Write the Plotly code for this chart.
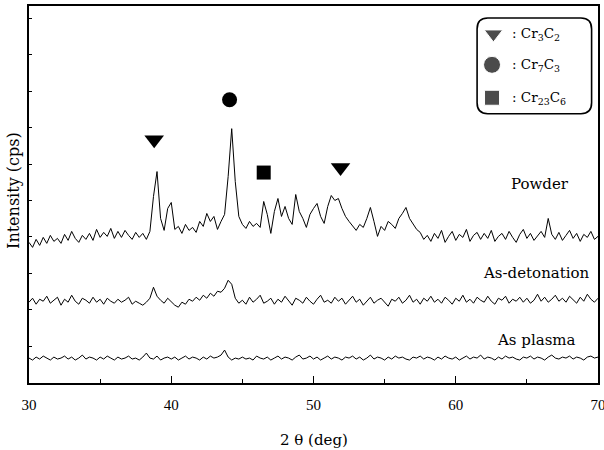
import numpy as np
import plotly.graph_objects as go

# 2-theta grid: 30..70 deg in 0.25 deg steps
two_theta_start = 30.0
two_theta_step = 0.25

powder = [134, 129, 137, 131, 139, 133, 141, 135, 138,
          133, 142, 136, 145, 138, 134, 141, 137,
          143, 136, 147, 139, 144, 140, 148, 138,
          145, 139, 146, 141, 137, 144, 139, 143, 137,
          145, 180, 205, 158, 146, 168, 174, 147,
          150, 143, 152, 146, 149, 144, 155, 150,
          163, 155, 160, 147, 155, 162, 200, 248, 195, 160,
          152, 148, 155, 150, 153, 149,
          175, 162, 143, 165, 178, 160, 170, 158, 152, 182, 165, 158, 149, 162, 168,
          173, 160, 153, 170, 181, 176, 178, 168, 160, 155, 150, 146, 152, 149, 158,
          169, 155, 140, 150, 146,
          155, 152, 148, 158, 163, 169, 158, 153, 147,
          144, 137, 141, 135, 143, 138, 146, 134, 140, 145,
          136, 142, 139, 147, 135, 141, 144, 137, 143, 138,
          146, 135, 140, 143, 137, 145, 139, 134, 142, 147,
          138, 143, 136, 141, 145, 139, 158, 142, 137, 144,
          136, 141, 146, 138, 143, 135, 142, 139, 145, 137, 140]

as_detonation = [74, 78, 72, 77, 75, 80, 73, 76, 79, 71,
                 77, 74, 81, 75, 72, 78, 76, 73, 79, 74,
                 77, 72, 78, 75, 73, 77, 74, 76, 79, 72,
                 75, 73, 71, 74,
                 78, 89, 80, 76, 73, 78, 74, 71, 69, 74, 72, 77, 75, 79, 76, 81,
                 78, 83, 80, 85, 84, 88, 96, 92, 78, 73,
                 76, 72, 79, 74, 77, 81, 73, 75, 78, 72,
                 77, 74, 80, 75, 71, 78, 76, 73, 79, 75,
                 72, 77, 81, 74, 76, 73, 79, 75, 78, 72,
                 76, 80, 74, 77, 71, 75, 79, 73, 76, 78,
                 74, 70, 77, 75, 79, 73, 76, 81, 74, 77,
                 72, 78, 75, 80, 74, 77, 73, 79, 76, 72,
                 78, 75, 81, 74, 77, 73, 79, 76, 74, 80,
                 75, 72, 78, 76, 80, 73, 77, 75, 79, 74,
                 78, 73, 76, 82, 75, 79, 74, 77, 81, 75,
                 78, 74, 80, 76, 73, 79, 75, 82, 77, 74, 78]

as_plasma = [18, 16, 19, 17, 20, 18, 16, 19, 17, 18,
             20, 17, 19, 16, 18, 21, 17, 19, 18, 16,
             19, 17, 20, 18, 16, 19, 17, 18, 20, 17,
             18, 16, 19, 23, 18, 17, 20, 16, 18, 19,
             17, 19, 16, 18, 20, 17, 19, 18, 16, 19,
             17, 20, 18, 19, 21, 26, 19, 16, 18, 17,
             19, 17, 18, 16, 20, 18, 17, 19, 16, 18,
             20, 17, 19, 18, 16, 19, 21, 17, 18, 20,
             17, 19, 16, 18, 20, 17, 19, 18, 16, 19,
             18, 20, 17, 19, 16, 18, 21, 17, 19, 18,
             16, 19, 17, 20, 18, 19, 17, 16, 19, 18,
             20, 17, 19, 18, 16, 19, 17, 20, 18, 17,
             19, 16, 18, 20, 17, 19, 18, 21, 17, 19,
             18, 16, 19, 17, 20, 18, 19, 17, 16, 19,
             18, 20, 17, 19, 18, 16, 19, 21, 18, 17,
             19, 18, 20, 17, 19, 18, 16, 19, 20, 18, 19]

# Phase identification markers
cr3c2_x = [38.8, 51.9]
cr3c2_y = [237, 209]
cr7c3_x = [44.1]
cr7c3_y = [277]
cr23c6_x = [46.5]
cr23c6_y = [204]

sample_labels = ["Powder", "As-detonation", "As plasma"]
sample_label_x = [65.9, 65.65, 65.7]
sample_label_y = [193, 103, 36]

legend_labels = [": Cr<sub>3</sub>C<sub>2</sub>", ": Cr<sub>7</sub>C<sub>3</sub>",
                 ": Cr<sub>23</sub>C<sub>6</sub>"]
legend_symbols = ["triangle-down", "circle", "square"]
legend_y = [343, 312, 279]

SERIF = "DejaVu Serif"
TICKFONT = "Liberation Serif"


def xs(vals):
    return two_theta_start + two_theta_step * np.arange(len(vals))


fig = go.Figure()
for vals in (powder, as_detonation, as_plasma):
    fig.add_trace(go.Scatter(x=xs(vals), y=vals, mode="lines",
                             line=dict(color="black", width=1.0),
                             showlegend=False, hoverinfo="skip"))

fig.add_trace(go.Scatter(x=cr3c2_x, y=cr3c2_y, mode="markers",
                         marker=dict(symbol="triangle-down", size=17, color="black"),
                         showlegend=False))
fig.add_trace(go.Scatter(x=cr7c3_x, y=cr7c3_y, mode="markers",
                         marker=dict(symbol="circle", size=15, color="black"),
                         showlegend=False))
fig.add_trace(go.Scatter(x=cr23c6_x, y=cr23c6_y, mode="markers",
                         marker=dict(symbol="square", size=14, color="black"),
                         showlegend=False))

# Legend box (rounded)
x0, x1, y0, y1 = 61.5, 69.55, 263, 359
rx, ry = 0.75, 11
path = (f"M {x0+rx},{y1} L {x1-rx},{y1} Q {x1},{y1} {x1},{y1-ry} "
        f"L {x1},{y0+ry} Q {x1},{y0} {x1-rx},{y0} L {x0+rx},{y0} "
        f"Q {x0},{y0} {x0},{y0+ry} L {x0},{y1-ry} Q {x0},{y1} {x0+rx},{y1} Z")
fig.add_shape(type="path", path=path, xref="x", yref="y",
              line=dict(color="black", width=1.6), fillcolor="white", layer="below")

fig.add_trace(go.Scatter(x=[62.65, 62.55, 62.55], y=legend_y, mode="markers",
                         marker=dict(symbol=legend_symbols, size=[16, 17, 15], color="black"),
                         showlegend=False))
for lab, ly in zip(legend_labels, legend_y):
    fig.add_annotation(x=63.8, y=ly, xref="x", yref="y", text=lab, showarrow=False,
                       xanchor="left", yanchor="middle",
                       font=dict(family=SERIF, size=13.5, color="black"))

for lab, lx, ly in zip(sample_labels, sample_label_x, sample_label_y):
    fig.add_annotation(x=lx, y=ly, xref="x", yref="y", text=lab, showarrow=False,
                       xanchor="center", yanchor="middle",
                       font=dict(family=SERIF, size=15, color="black"))

fig.add_annotation(x=0.5, y=-0.151, xref="paper", yref="paper", text="2 θ (deg)",
                   showarrow=False, xanchor="center", yanchor="middle",
                   font=dict(family=SERIF, size=15, color="black"))
fig.add_annotation(x=-0.026, y=0.51, xref="paper", yref="paper", text="Intensity (cps)",
                   showarrow=False, textangle=-90, xanchor="center", yanchor="middle",
                   font=dict(family=SERIF, size=16, color="black"))

fig.update_layout(
    width=604, height=450,
    margin=dict(l=29, r=6, t=6, b=67, autoexpand=False),
    paper_bgcolor="white", plot_bgcolor="white",
    showlegend=False,
    xaxis=dict(range=[30, 70], tickvals=[30, 40, 50, 60, 70], ticks="inside", ticklen=7,
               tickcolor="black", tickwidth=1.2, automargin=False,
               ticklabeloverflow="allow", ticklabelstandoff=7,
               minor=dict(tickvals=[35, 45, 55, 65], ticks="inside", ticklen=4,
                          tickcolor="black"),
               showline=True, linecolor="black", linewidth=1.6, mirror=True,
               showgrid=False, zeroline=False,
               tickfont=dict(family=TICKFONT, size=15, color="black")),
    yaxis=dict(range=[-7, 371], showticklabels=False, ticks="inside", ticklen=3,
               tickcolor="black", tick0=103, dtick=36.5, automargin=False,
               showline=True, linecolor="black", linewidth=1.6, mirror=True,
               showgrid=False, zeroline=False),
)

fig.write_html("out.html", config={"displayModeBar": False},
               post_script="document.body.style.margin='0px';document.body.style.overflow='hidden';")
